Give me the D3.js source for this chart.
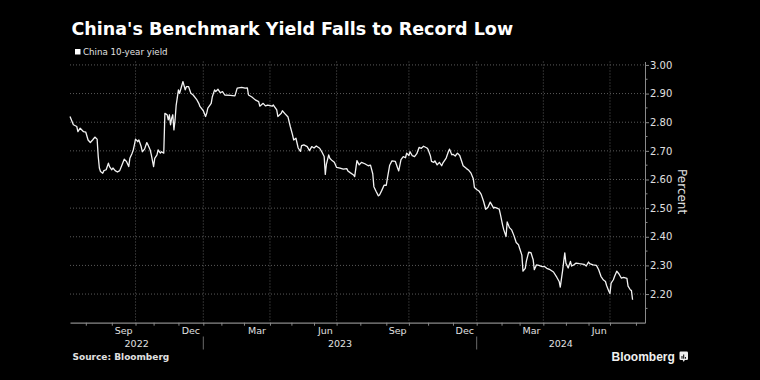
<!DOCTYPE html>
<html>
<head>
<meta charset="utf-8">
<script src="https://cdn.jsdelivr.net/npm/d3@7"></script>
<style>
  html, body { margin: 0; padding: 0; background: #000; }
  #chart { width: 760px; height: 380px; }
  text { font-family: "DejaVu Sans", sans-serif; }
</style>
</head>
<body>
<div id="chart"></div>
<script>
// China 10-year government bond yield (percent)
const dates = [
  "2022-07-12","2022-07-15","2022-07-20","2022-07-21","2022-07-25","2022-07-28","2022-08-01","2022-08-03",
  "2022-08-05","2022-08-09","2022-08-11","2022-08-15","2022-08-16","2022-08-17","2022-08-18","2022-08-22",
  "2022-08-23","2022-08-25","2022-08-29","2022-08-30","2022-09-01","2022-09-02","2022-09-06","2022-09-08",
  "2022-09-13","2022-09-15","2022-09-19","2022-09-21","2022-09-23","2022-09-26","2022-09-28","2022-09-29",
  "2022-09-30","2022-10-10","2022-10-12","2022-10-13","2022-10-17","2022-10-18","2022-10-20","2022-10-24",
  "2022-10-25","2022-10-27","2022-10-28","2022-11-01","2022-11-02","2022-11-04","2022-11-07","2022-11-09",
  "2022-11-10","2022-11-14","2022-11-15","2022-11-17","2022-11-18","2022-11-21","2022-11-22","2022-11-23",
  "2022-11-24","2022-11-25","2022-11-28","2022-11-29","2022-12-01","2022-12-02","2022-12-07","2022-12-09",
  "2022-12-12","2022-12-14","2022-12-16","2022-12-20","2022-12-23","2022-12-27","2022-12-28","2023-01-03",
  "2023-01-05","2023-01-06","2023-01-09","2023-01-12","2023-01-13","2023-01-17","2023-01-18","2023-01-20",
  "2023-01-31","2023-02-02","2023-02-06","2023-02-13","2023-02-17","2023-02-21","2023-02-27","2023-03-02",
  "2023-03-06","2023-03-07","2023-03-10","2023-03-15","2023-03-20","2023-03-21","2023-03-24","2023-03-28",
  "2023-03-30","2023-04-06","2023-04-07","2023-04-12","2023-04-13","2023-04-18","2023-04-19","2023-04-21",
  "2023-04-26","2023-04-28","2023-05-05","2023-05-08","2023-05-10","2023-05-12","2023-05-16","2023-05-17",
  "2023-05-19","2023-05-24","2023-05-26","2023-05-30","2023-06-01","2023-06-05","2023-06-08","2023-06-12",
  "2023-06-14","2023-06-15","2023-06-16","2023-06-20","2023-06-21","2023-06-27","2023-06-29","2023-07-03",
  "2023-07-06","2023-07-11","2023-07-14","2023-07-17","2023-07-19","2023-07-24","2023-07-25","2023-07-27",
  "2023-07-31","2023-08-02","2023-08-07","2023-08-10","2023-08-14","2023-08-16","2023-08-17","2023-08-21",
  "2023-08-23","2023-08-24","2023-08-28","2023-08-30","2023-09-01","2023-09-04","2023-09-06","2023-09-08",
  "2023-09-13","2023-09-15","2023-09-18","2023-09-20","2023-09-22","2023-09-26","2023-09-27","2023-10-09",
  "2023-10-10","2023-10-12","2023-10-16","2023-10-18","2023-10-20","2023-10-24","2023-10-26","2023-10-31",
  "2023-11-01","2023-11-03","2023-11-06","2023-11-08","2023-11-09","2023-11-13","2023-11-15","2023-11-17",
  "2023-11-20","2023-11-23","2023-11-27","2023-11-28","2023-11-30","2023-12-01","2023-12-05","2023-12-07",
  "2023-12-11","2023-12-13","2023-12-14","2023-12-19","2023-12-21","2023-12-25","2023-12-27","2023-12-28",
  "2024-01-02","2024-01-04","2024-01-08","2024-01-10","2024-01-12","2024-01-16","2024-01-18","2024-01-19",
  "2024-01-23","2024-01-24","2024-01-26","2024-01-30","2024-01-31","2024-02-02","2024-02-05","2024-02-07",
  "2024-02-08","2024-02-19","2024-02-21","2024-02-23","2024-02-27","2024-02-29","2024-03-01","2024-03-05",
  "2024-03-06","2024-03-08","2024-03-11","2024-03-13","2024-03-15","2024-03-19","2024-03-20","2024-03-22",
  "2024-03-26","2024-03-29","2024-04-02","2024-04-08","2024-04-11","2024-04-16","2024-04-19","2024-04-23",
  "2024-04-24","2024-04-26","2024-04-30","2024-05-06","2024-05-08","2024-05-10","2024-05-13","2024-05-15",
  "2024-05-17","2024-05-22","2024-05-28","2024-05-30","2024-06-03","2024-06-04","2024-06-07","2024-06-13",
  "2024-06-17","2024-06-19","2024-06-21","2024-06-25","2024-06-26","2024-06-28","2024-07-01","2024-07-02",
  "2024-07-04","2024-07-05","2024-07-09","2024-07-11","2024-07-15","2024-07-17","2024-07-22","2024-07-23",
  "2024-07-25","2024-07-26","2024-07-29"
];

const yields = [
  2.820,2.791,2.785,2.767,2.779,2.767,2.765,2.738,
  2.729,2.738,2.748,2.741,2.680,2.640,2.628,2.622,
  2.631,2.634,2.657,2.645,2.634,2.640,2.631,2.626,
  2.631,2.651,2.671,2.663,2.645,2.674,2.692,2.703,
  2.721,2.741,2.732,2.738,2.715,2.697,2.706,2.729,
  2.721,2.703,2.686,2.645,2.674,2.686,2.703,2.692,
  2.697,2.692,2.831,2.826,2.808,2.826,2.791,2.814,
  2.826,2.773,2.808,2.860,2.913,2.901,2.942,2.913,
  2.924,2.924,2.901,2.895,2.880,2.866,2.855,2.840,
  2.820,2.831,2.849,2.866,2.889,2.913,2.907,2.915,
  2.903,2.907,2.895,2.894,2.892,2.919,2.922,2.919,
  2.920,2.895,2.888,2.878,2.872,2.856,2.866,2.857,
  2.860,2.856,2.860,2.843,2.820,2.831,2.840,2.831,
  2.818,2.785,2.756,2.738,2.744,2.710,2.698,2.718,
  2.721,2.715,2.701,2.715,2.710,2.717,2.709,2.696,
  2.680,2.618,2.654,2.686,2.674,2.666,2.660,2.642,
  2.640,2.636,2.638,2.630,2.624,2.616,2.610,2.666,
  2.651,2.660,2.655,2.648,2.650,2.620,2.575,2.558,
  2.543,2.546,2.562,2.580,2.580,2.605,2.650,2.665,
  2.663,2.640,2.630,2.669,2.680,2.676,2.692,2.684,
  2.697,2.683,2.680,2.690,2.712,2.709,2.716,2.710,
  2.705,2.683,2.663,2.660,2.665,2.651,2.660,2.648,
  2.657,2.675,2.698,2.706,2.686,2.688,2.682,2.692,
  2.684,2.660,2.648,2.638,2.632,2.622,2.603,2.572,
  2.565,2.560,2.548,2.525,2.496,2.503,2.521,2.514,
  2.500,2.503,2.500,2.496,2.478,2.440,2.424,2.401,
  2.452,2.432,2.424,2.404,2.380,2.372,2.360,2.336,
  2.280,2.290,2.315,2.346,2.345,2.320,2.285,2.302,
  2.300,2.296,2.296,2.290,2.285,2.277,2.258,2.244,
  2.224,2.280,2.344,2.308,2.291,2.314,2.298,2.302,
  2.308,2.306,2.304,2.298,2.312,2.306,2.302,2.300,
  2.285,2.262,2.250,2.244,2.230,2.210,2.202,2.238,
  2.250,2.261,2.280,2.270,2.256,2.258,2.255,2.228,
  2.215,2.212,2.180
];

// China interbank market holidays falling on weekdays (the axis runs on trading days)
const holidays = [
  "2022-09-12","2022-10-03","2022-10-04","2022-10-05","2022-10-06","2022-10-07",
  "2023-01-02","2023-01-23","2023-01-24","2023-01-25","2023-01-26","2023-01-27",
  "2023-04-05","2023-05-01","2023-05-02","2023-05-03","2023-06-22","2023-06-23",
  "2023-09-29","2023-10-02","2023-10-03","2023-10-04","2023-10-05","2023-10-06",
  "2024-01-01","2024-02-12","2024-02-13","2024-02-14","2024-02-15","2024-02-16",
  "2024-04-04","2024-04-05","2024-05-01","2024-05-02","2024-05-03","2024-06-10"
];

const axisStart = "2022-07-12",
      axisEnd = "2024-08-13";

const yTicks = [2.20, 2.30, 2.40, 2.50, 2.60, 2.70, 2.80, 2.90, 3.00];
const yMinorTicks = [2.15, 2.25, 2.35, 2.45, 2.55, 2.65, 2.75, 2.85, 2.95];
const monthLabels = ["Sep", "Dec", "Mar", "Jun"];   // last month of each quarter
const labelMonths = [8, 11, 2, 5];                   // 0-based month numbers for those labels

const title = "China's Benchmark Yield Falls to Record Low",
      legendLabel = "China 10-year yield",
      yAxisTitle = "Percent",
      sourceText = "Source: Bloomberg";


// Builds the list of trading days (weekdays minus holidays) between two dates.
const fmt = d3.utcFormat("%Y-%m-%d");
const holidaySet = new Set(holidays);
let tradingDays = d3.utcDays(new Date(axisStart), d3.utcDay.offset(new Date(axisEnd), 1))
  .filter(d => d.getUTCDay() !== 0 && d.getUTCDay() !== 6 && !holidaySet.has(fmt(d)));
let dayIndex = new Map(tradingDays.map((d, i) => [fmt(d), i]));

// index of the first trading day on or after a date
function firstTradingIndex(date) {
  let i = d3.bisector(d => d).left(tradingDays, date);
  return i;
}

let width = 760,
    height = 380;

let plot = {left: 70, right: 645, top: 61.5, bottom: 322.7};

let svg = d3.select('#chart')
            .append('svg')
            .attr('width', width)
            .attr('height', height);

svg.append('rect')
   .attr('width', width)
   .attr('height', height)
   .attr('fill', '#000');

let x = d3.scaleLinear()
          .domain([0, tradingDays.length - 1])
          .range([plot.left, plot.right]);

let y = d3.scaleLinear()
          .domain([2.10, 3.012])
          .range([plot.bottom, plot.top]);

// month starts and quarter boundaries
let monthStarts = d3.utcMonths(d3.utcMonth.ceil(new Date(axisStart)), new Date(axisEnd))
  .map(d => ({date: d, idx: firstTradingIndex(d)}));
let quarterStarts = monthStarts.filter(m => m.date.getUTCMonth() % 3 === 0);
let yearStarts = monthStarts.filter(m => m.date.getUTCMonth() === 0);

// Horizontal gridlines
svg.append('g')
   .selectAll('line')
   .data(yTicks)
   .enter()
   .append('line')
   .attr('x1', plot.left)
   .attr('x2', plot.right)
   .attr('y1', d => y(d))
   .attr('y2', d => y(d))
   .attr('stroke', '#5a5a5a')
   .attr('stroke-width', 1)
   .attr('stroke-dasharray', '1,2');

// Vertical gridlines at quarter starts
svg.append('g')
   .selectAll('line')
   .data(quarterStarts)
   .enter()
   .append('line')
   .attr('x1', d => x(d.idx))
   .attr('x2', d => x(d.idx))
   .attr('y1', plot.top)
   .attr('y2', plot.bottom)
   .attr('stroke', '#5a5a5a')
   .attr('stroke-width', 1)
   .attr('stroke-dasharray', '1,2');

// Right axis
let yAxis = svg.append('g')
               .attr('transform', `translate(${plot.right}, 0)`)
               .call(d3.axisRight(y)
                       .tickValues(yTicks)
                       .tickSize(4)
                       .tickSizeOuter(0)
                       .tickPadding(1)
                       .tickFormat(d3.format('.2f')));

yAxis.select('.domain').attr('stroke', '#8a8a8a');
yAxis.selectAll('.tick line').attr('stroke', '#8a8a8a');
yAxis.selectAll('.tick text')
     .attr('fill', '#e0e0e0')
     .style('font-family', '"DejaVu Sans", sans-serif')
     .style('font-size', '10px');

svg.append('g')
   .selectAll('line')
   .data(yMinorTicks)
   .enter()
   .append('line')
   .attr('x1', plot.right)
   .attr('x2', plot.right + 2.5)
   .attr('y1', d => y(d))
   .attr('y2', d => y(d))
   .attr('stroke', '#8a8a8a');

svg.append('text')
   .attr('transform', `translate(681.5, ${(plot.top + plot.bottom) / 2 - 0.5}) rotate(90)`)
   .attr('text-anchor', 'middle')
   .attr('dominant-baseline', 'central')
   .attr('fill', '#e0e0e0')
   .style('font-size', '12px')
   .text(yAxisTitle);

// Bottom axis with monthly ticks
let xAxis = svg.append('g')
               .attr('transform', `translate(0, ${plot.bottom})`)
               .call(d3.axisBottom(x)
                       .tickValues(monthStarts.map(m => m.idx))
                       .tickSize(3)
                       .tickSizeOuter(0)
                       .tickFormat(''));

xAxis.select('.domain').attr('stroke', '#8a8a8a').attr('stroke-width', 1.2);
xAxis.selectAll('.tick line').attr('stroke', '#8a8a8a');

// Month labels, centred in their month
let labelled = monthStarts.filter((m, i) => labelMonths.includes(m.date.getUTCMonth()) && i + 1 < monthStarts.length)
  .map(m => {
    let next = monthStarts[monthStarts.indexOf(m) + 1];
    return {text: monthLabels[labelMonths.indexOf(m.date.getUTCMonth())], mid: (m.idx + next.idx) / 2};
  });

svg.append('g')
   .selectAll('text')
   .data(labelled)
   .enter()
   .append('text')
   .attr('x', d => x(d.mid))
   .attr('y', 333.5)
   .attr('text-anchor', 'middle')
   .attr('fill', '#e0e0e0')
   .style('font-size', '9.5px')
   .text(d => d.text);

// Year labels centred on the visible span of each year, with separators
let yearBounds = [0, ...yearStarts.map(m => m.idx), tradingDays.length - 1];
let years = d3.range(yearBounds.length - 1).map(i => ({
  year: tradingDays[yearBounds[i]].getUTCFullYear(),
  mid: (yearBounds[i] + yearBounds[i + 1]) / 2
}));

svg.append('g')
   .selectAll('text')
   .data(years)
   .enter()
   .append('text')
   .attr('x', d => x(d.mid))
   .attr('y', 346.5)
   .attr('text-anchor', 'middle')
   .attr('fill', '#e0e0e0')
   .style('font-size', '9.5px')
   .text(d => d.year);

svg.append('g')
   .selectAll('line')
   .data(yearStarts)
   .enter()
   .append('line')
   .attr('x1', d => x(d.idx))
   .attr('x2', d => x(d.idx))
   .attr('y1', 336.5)
   .attr('y2', 349.5)
   .attr('stroke', '#6a6a6a');

// The yield line
let series = dates.map((d, i) => ({idx: dayIndex.get(d), value: yields[i]}));

svg.append('path')
   .datum(series)
   .attr('fill', 'none')
   .attr('stroke', '#f2f2f2')
   .attr('stroke-width', 1.3)
   .attr('stroke-linejoin', 'round')
   .attr('d', d3.line().x(d => x(d.idx)).y(d => y(d.value)));

// Title, legend and footer
svg.append('text')
   .attr('x', 71.5)
   .attr('y', 35)
   .attr('fill', '#ffffff')
   .style('font-size', '17.5px')
   .style('font-weight', 'bold')
   .text(title);

svg.append('rect')
   .attr('x', 75)
   .attr('y', 49)
   .attr('width', 5.5)
   .attr('height', 5.5)
   .attr('fill', '#ffffff');

svg.append('text')
   .attr('x', 83)
   .attr('y', 55)
   .attr('fill', '#e0e0e0')
   .style('font-size', '8.7px')
   .text(legendLabel);

svg.append('text')
   .attr('x', 72.5)
   .attr('y', 360)
   .attr('fill', '#e0e0e0')
   .style('font-size', '9px')
   .style('font-weight', 'bold')
   .text(sourceText);

svg.append('text')
   .attr('x', 611.5)
   .attr('y', 360.5)
   .attr('fill', '#f0f0f0')
   .style('font-family', '"Liberation Sans", Arial, sans-serif')
   .style('font-size', '12px')
   .style('font-weight', 'bold')
   .text('Bloomberg');

// small Bloomberg chart icon
let icon = svg.append('g').attr('transform', 'translate(679.5, 351.5)');
icon.append('rect').attr('width', 8.5).attr('height', 8.5).attr('rx', 1.2).attr('fill', '#f0f0f0');
icon.append('path').attr('d', 'M3.2,8.5 L4.25,10.5 L5.3,8.5 Z').attr('fill', '#f0f0f0');
icon.selectAll('.bar')
    .data([[2, 4.5], [3.7, 3], [5.4, 5.5]])
    .enter()
    .append('rect')
    .attr('x', d => d[0])
    .attr('y', d => 7.2 - (7.2 - d[1]))
    .attr('width', 1)
    .attr('height', d => 7.2 - d[1])
    .attr('fill', '#000');
</script>
</body>
</html>
